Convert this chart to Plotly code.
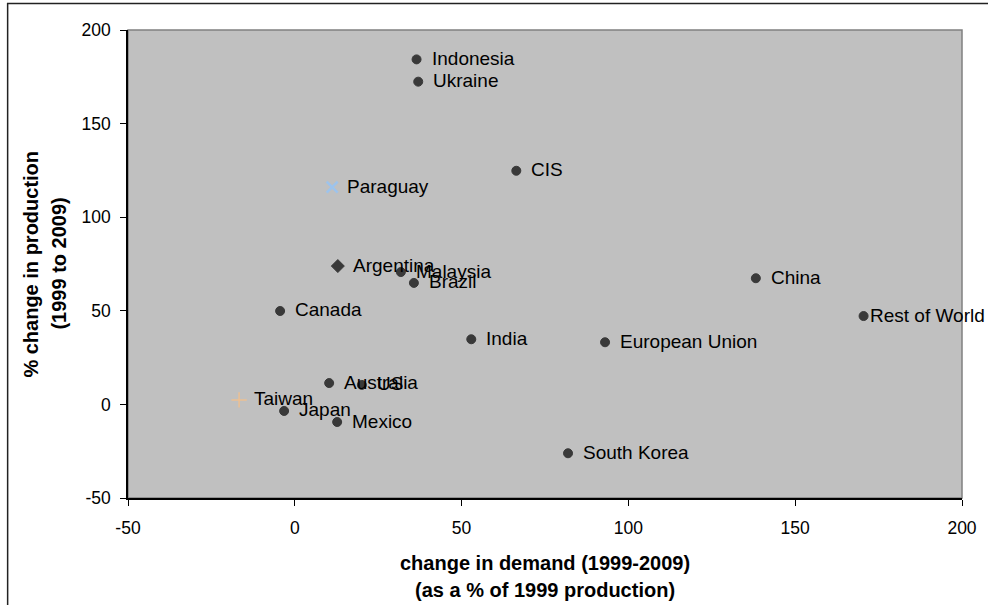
import plotly.graph_objects as go

# ---- data ----
countries = ["Indonesia", "Ukraine", "CIS", "Paraguay", "Argentina", "Malaysia", "Brazil",
             "Canada", "China", "Rest of World", "India", "European Union", "Australia",
             "US", "Taiwan", "Japan", "Mexico", "South Korea"]
demand_change = [36.5, 37.0, 66.4, 11.2, 12.9, 31.8, 35.7,
                 -4.4, 138.2, 170.5, 52.9, 93.0, 10.3,
                 20.1, -16.7, -3.2, 12.7, 81.9]
production_change = [184.3, 172.4, 124.8, 116.1, 73.9, 70.7, 64.9,
                     49.9, 67.4, 47.2, 34.8, 33.2, 11.4,
                     10.4, 2.4, -3.5, -9.4, -26.1]
x_ticks = [-50, 0, 50, 100, 150, 200]
x_tick_labels = ["-50", "0", "50", "100", "150", "200"]
y_ticks = [-50, 0, 50, 100, 150, 200]
y_tick_labels = ["-50", "0", "50", "100", "150", "200"]

# ---- styles ----
special_symbol = {"Paraguay": "x-thin-open", "Argentina": "diamond", "Taiwan": "cross-thin-open"}
special_color = {"Paraguay": "#8EC4FF", "Taiwan": "#FFC080"}
special_size = {"Paraguay": 11, "Argentina": 10, "Taiwan": 11}
special_lw = {"Paraguay": 2.5, "Taiwan": 1.5}
label_shift = {"Rest of World": 4}

FONT = "Liberation Sans, Arial, sans-serif"
W, H = 988, 605
L, R, T, B = 127.5, 25.5, 30, 107
pw, ph = W - L - R, H - T - B

def px_to_paper_x(px):
    return (px - L) / pw

def px_to_paper_y(py):
    return (H - B - py) / ph

symbols = [special_symbol.get(c, "circle") for c in countries]
colors = [special_color.get(c, "black") for c in countries]
sizes = [special_size.get(c, 9) for c in countries]
lws = [special_lw.get(c, 1) for c in countries]

fig = go.Figure()
fig.add_trace(go.Scatter(
    x=demand_change, y=production_change, mode="markers",
    marker=dict(symbol=symbols, color=colors, size=sizes,
                line=dict(color=colors, width=lws)),
    cliponaxis=False, showlegend=False, hoverinfo="text", text=countries,
))

annotations = []
for c, xv, yv in zip(countries, demand_change, production_change):
    annotations.append(dict(
        x=xv, y=yv, xref="x", yref="y", text=c, showarrow=False,
        xanchor="left", yanchor="middle", xshift=label_shift.get(c, 13), yshift=1,
        font=dict(family=FONT, size=19, color="black"),
    ))

# axis titles as separate lines
title_font = dict(family=FONT, size=20, color="black")
annotations += [
    dict(x=0.5, y=px_to_paper_y(563), xref="paper", yref="paper", showarrow=False,
         text="<b>change in demand (1999-2009)</b>", font=title_font,
         xanchor="center", yanchor="middle"),
    dict(x=0.5, y=px_to_paper_y(590), xref="paper", yref="paper", showarrow=False,
         text="<b>(as a % of 1999 production)</b>", font=title_font,
         xanchor="center", yanchor="middle"),
    dict(x=px_to_paper_x(30), y=0.5, xref="paper", yref="paper", showarrow=False,
         text="<b>% change in production</b>", font=title_font, textangle=-90,
         xanchor="center", yanchor="middle"),
    dict(x=px_to_paper_x(58), y=0.5, xref="paper", yref="paper", showarrow=False,
         text="<b>(1999 to 2009)</b>", font=title_font, textangle=-90,
         xanchor="center", yanchor="middle"),
]

shapes = [
    # plot area border (grey, top/right)
    dict(type="rect", xref="paper", yref="paper", x0=0, x1=1, y0=0, y1=1,
         line=dict(color="#808080", width=1.5), layer="below"),
    # outer chart frame
    dict(type="rect", xref="paper", yref="paper",
         x0=px_to_paper_x(7), x1=px_to_paper_x(1010),
         y0=px_to_paper_y(625), y1=px_to_paper_y(3.5),
         line=dict(color="#222222", width=1.5)),
]

axis_common = dict(
    showgrid=False, zeroline=False, showline=True, linecolor="black", linewidth=1.5,
    ticks="outside", ticklen=6, tickcolor="black", tickwidth=1,
    tickfont=dict(family=FONT, size=17.5, color="black"),
)

fig.update_layout(
    width=W, height=H,
    margin=dict(l=L, r=R, t=T, b=B, autoexpand=False),
    paper_bgcolor="white", plot_bgcolor="#C0C0C0",
    xaxis=dict(range=[-50, 200], tickvals=x_ticks, ticktext=x_tick_labels,
               ticklabelstandoff=7, **axis_common),
    yaxis=dict(range=[-50, 200], tickvals=y_ticks, ticktext=y_tick_labels,
               ticklabelstandoff=6, **axis_common),
    annotations=annotations, shapes=shapes,
    font=dict(family=FONT),
)

fig.write_html("out.html", config={"displayModeBar": False})

# remove the default page margin so the figure sits at the window's top-left corner
with open("out.html", "r", encoding="utf-8") as f:
    html = f.read()
html = html.replace("<body>", '<body style="margin:0;overflow:hidden">', 1)
with open("out.html", "w", encoding="utf-8") as f:
    f.write(html)
